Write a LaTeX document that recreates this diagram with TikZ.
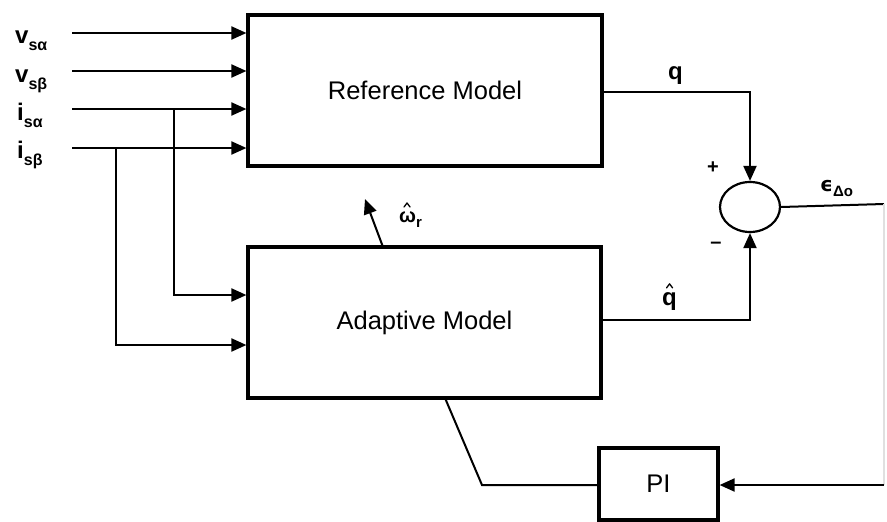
\documentclass[tikz,border=0pt]{standalone}
\usepackage{fontspec}
\setmainfont{Liberation Sans}
\newfontfamily\dvfont{DejaVu Sans}
\usetikzlibrary{arrows.meta,shapes.geometric}
\newcommand{\subx}[1]{\raisebox{-0.3em}{\fontsize{16}{18}\selectfont #1}}
\begin{document}
\begin{tikzpicture}[x=1pt,y=-1pt,
  blk/.style={draw,line width=3.2pt,inner sep=0pt,font=\fontsize{25.5}{30}\selectfont},
  wire/.style={line width=2pt},
  arr/.style={wire,-{Triangle[length=15pt,width=13pt]}},
  lbl/.style={font=\fontsize{24}{28}\selectfont\bfseries,inner sep=0pt,anchor=base west},
  hatmark/.style={line width=1.3pt,line join=round,line cap=round},
  sgn/.style={font=\fontsize{20}{22}\selectfont\bfseries,inner sep=0pt}]
\useasboundingbox[fill=white] (0,0) rectangle (887,522);

% blocks
\node[blk,minimum width=354pt,minimum height=151pt] (ref) at (425,90.5) {Reference Model};
\node[blk,minimum width=353pt,minimum height=151pt] (adp) at (424.5,322.5) {Adaptive Model};
\node[blk,minimum width=119pt,minimum height=72pt] (pi) at (658.5,484) {PI};
\node[draw,ellipse,line width=2.2pt,minimum width=60pt,minimum height=50pt,inner sep=0pt] (sum) at (750,207) {};

% input labels
\node[lbl] (lvsa) at (15,43) {v\subx{sα}};
\node[lbl] (lvsb) at (15,82) {v\subx{sβ}};
\node[lbl] (lisa) at (17,120) {i\subx{sα}};
\node[lbl] (lisb) at (17,158) {i\subx{sβ}};

% input wires
\coordinate (vsa) at (72,33);
\coordinate (vsb) at (72,71);
\coordinate (isa) at (72,109);
\coordinate (isb) at (72,148);
\draw[arr] (vsa) -- (vsa -| ref.west);
\draw[arr] (vsb) -- (vsb -| ref.west);
\draw[arr] (isa) -- (isa -| ref.west);
\draw[arr] (isb) -- (isb -| ref.west);

% taps into adaptive model
\coordinate (tapa) at (174,109);
\coordinate (tapb) at (116,148);
\coordinate (ina) at (174,295);
\coordinate (inb) at (116,345);
\draw[arr] (tapa) -- (ina) -- (ina -| adp.west);
\draw[arr] (tapb) -- (inb) -- (inb -| adp.west);

% outputs to sum
\coordinate (qo) at (602,92);
\coordinate (qho) at (601,320);
\draw[arr] (qo) -- (qo -| sum.north) -- (sum.north);
\draw[arr] (qho) -- (qho -| sum.south) -- (sum.south);
\node[lbl] (lq) at (668,79) {q};
\node[lbl] (lqh) at (662,305) {q};
\draw[hatmark] ([xshift=-3pt,yshift=4pt]lqh.north) -- ([yshift=8pt]lqh.north) -- ([xshift=3pt,yshift=4pt]lqh.north);
\node[sgn] (plus) at (713,168) {+};
\node[sgn] (minus) at (716,245) {\textendash};

% error path to PI
\coordinate (rc1) at (884,204);
\coordinate (rc2) at (884,485);
\draw[wire] (sum.east) -- (rc1);
\draw[wire,black!12] (rc1) -- (rc2);
\draw[arr] (rc2) -- (rc2 -| pi.east);
\node[inner sep=0pt,anchor=base west,font=\fontsize{20}{22}\selectfont\bfseries] (leps) at (820,191) {{\dvfont ϵ}\raisebox{-0.25em}{\fontsize{15}{17}\selectfont Δo}};

% PI to adaptive model
\coordinate (pk) at (482,485);
\coordinate (pa) at (445,398);
\draw[wire] (pi.west |- pk) -- (pk) -- (pa);

% omega hat output
\coordinate (wo) at (383,247);
\coordinate (wt) at (365,199);
\draw[arr] (wo) -- (wt);
\node[inner sep=0pt,anchor=base west,font=\fontsize{20}{22}\selectfont\bfseries] (lw) at (399,222) {ω\raisebox{-0.25em}{\fontsize{15}{17}\selectfont r}};
\draw[hatmark] (404,207) -- (407,203) -- (410,207);
\end{tikzpicture}
\end{document}
